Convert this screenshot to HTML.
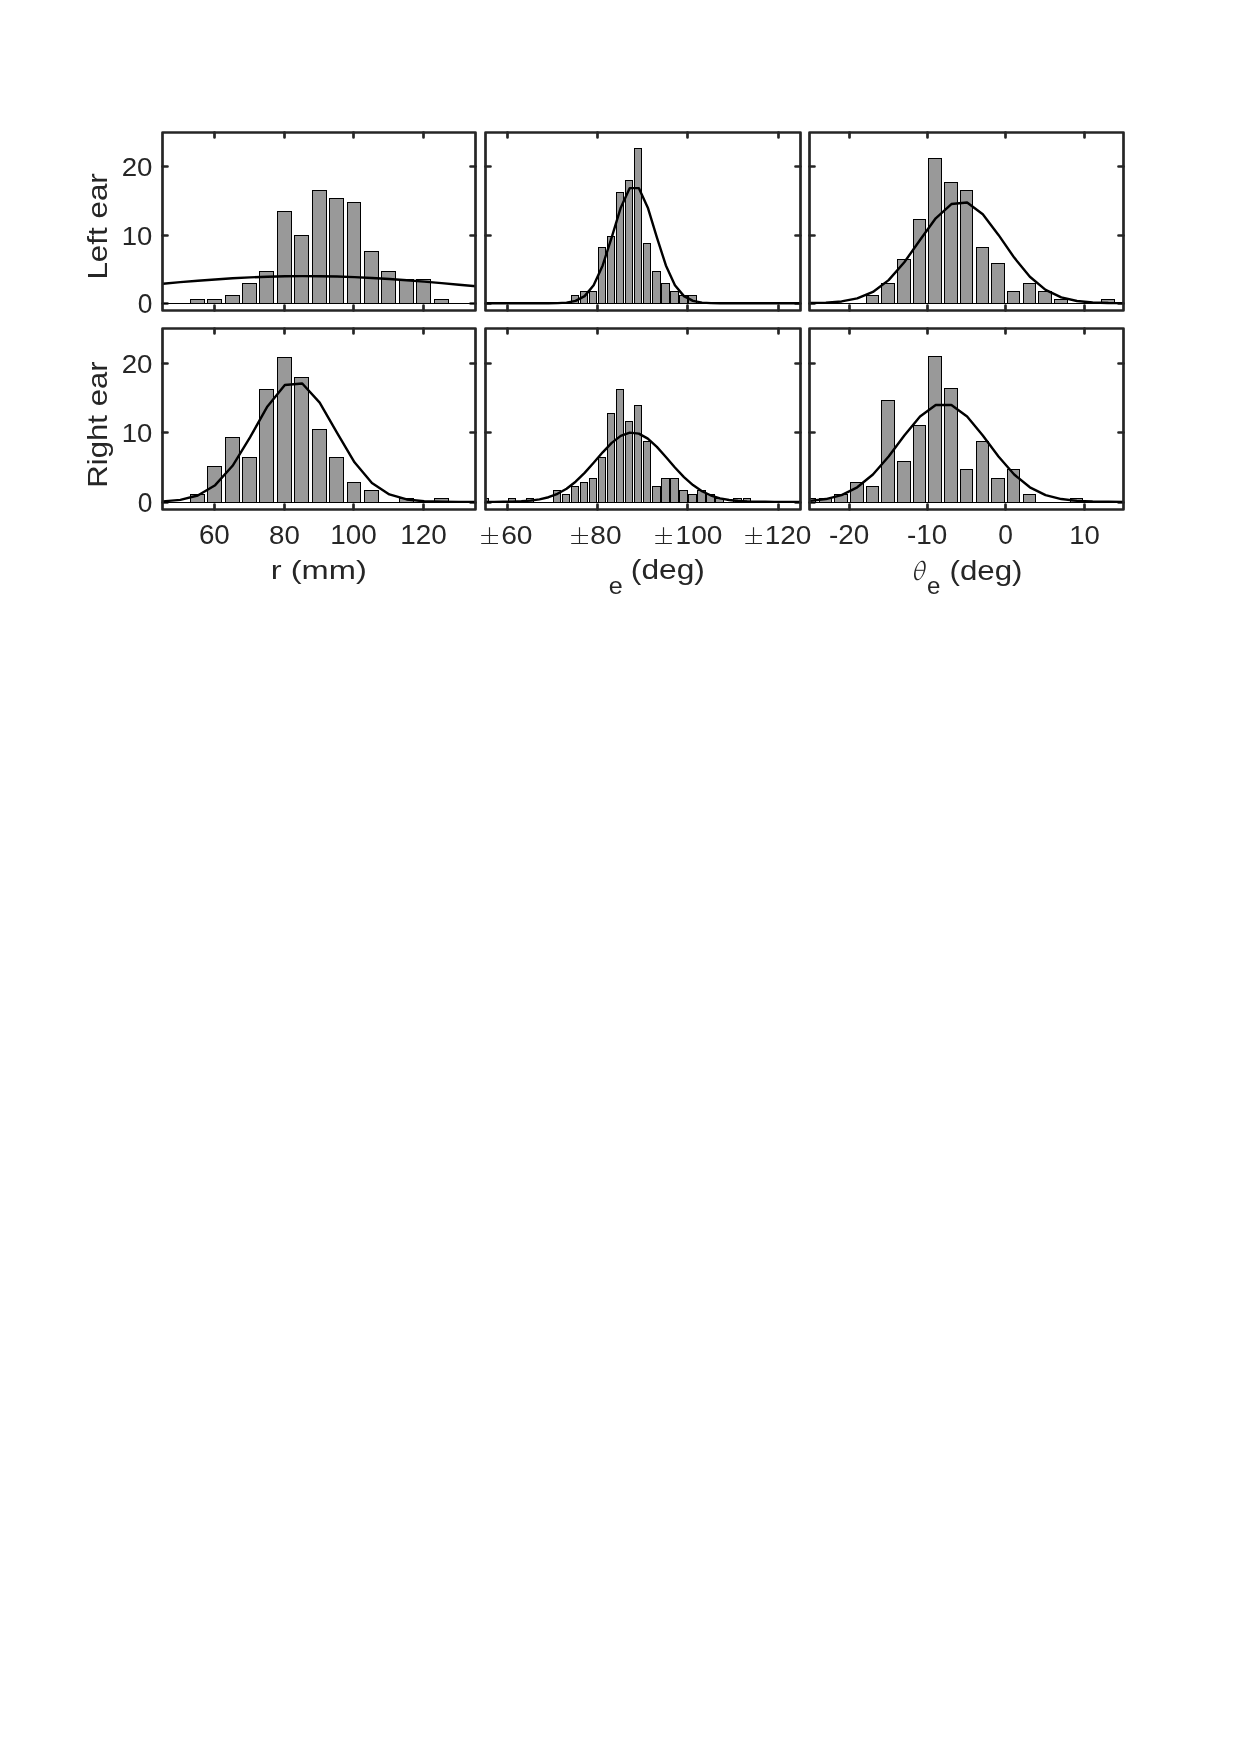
<!DOCTYPE html>
<html><head><meta charset="utf-8"><title>Histograms</title>
<style>
html,body{margin:0;padding:0;background:#fff;}
svg{display:block;will-change:transform;}
text{font-family:"Liberation Sans",sans-serif;fill:#262626;font-kerning:none;}
.b{fill:#999;stroke:#000;stroke-width:1;}
.bl{stroke:#000;stroke-width:1;}
.cv{fill:none;stroke:#000;stroke-width:2.4;stroke-linejoin:round;}
.ax{fill:none;stroke:#262626;stroke-width:2.7;stroke-linejoin:round;}
.tk{fill:none;stroke:#262626;stroke-width:2.7;stroke-linecap:round;}
.pm{fill:none;stroke:#262626;stroke-width:1.15;}
.th{fill:none;stroke:#262626;stroke-width:1.45;}
.thb{fill:none;stroke:#262626;stroke-width:1;}
</style></head><body>
<svg width="1240" height="1754" viewBox="0 0 1240 1754">
<rect width="1240" height="1754" fill="#fff"/>
<path d="M214.5 310.5V305.5M214.5 132.5V137.5M284.5 310.5V305.5M284.5 132.5V137.5M353.5 310.5V305.5M353.5 132.5V137.5M423.5 310.5V305.5M423.5 132.5V137.5M162.5 303.5H167.5M475.5 303.5H470.5M162.5 235.5H167.5M475.5 235.5H470.5M162.5 166.5H167.5M475.5 166.5H470.5" class="tk"/>
<clipPath id="clip00"><rect x="162.5" y="132.5" width="313" height="178"/></clipPath>
<g clip-path="url(#clip00)">
<rect x="190.5" y="299.5" width="14" height="4" class="b"/>
<rect x="207.5" y="299.5" width="14" height="4" class="b"/>
<rect x="225.5" y="295.5" width="14" height="8" class="b"/>
<rect x="242.5" y="283.5" width="14" height="20" class="b"/>
<rect x="259.5" y="271.5" width="14" height="32" class="b"/>
<rect x="277.5" y="211.5" width="14" height="92" class="b"/>
<rect x="294.5" y="235.5" width="14" height="68" class="b"/>
<rect x="312.5" y="190.5" width="14" height="113" class="b"/>
<rect x="329.5" y="198.5" width="14" height="105" class="b"/>
<rect x="347.5" y="202.5" width="13" height="101" class="b"/>
<rect x="364.5" y="251.5" width="14" height="52" class="b"/>
<rect x="381.5" y="271.5" width="14" height="32" class="b"/>
<rect x="399.5" y="279.5" width="14" height="24" class="b"/>
<rect x="416.5" y="279.5" width="14" height="24" class="b"/>
<rect x="434.5" y="299.5" width="14" height="4" class="b"/>
<path d="M162.5 303.5H475.5" class="bl"/>
<polyline points="162.91,283.69 180.33,282.16 197.75,280.73 215.17,279.44 232.59,278.32 250,277.4 267.42,276.72 284.84,276.28 302.26,276.1 319.68,276.19 337.09,276.54 354.51,277.15 371.93,277.99 389.35,279.04 406.77,280.28 424.18,281.67 441.6,283.17 459.02,284.75 476.44,286.37" class="cv"/>
</g>
<rect x="162.5" y="132.5" width="313" height="178" class="ax"/>
<path d="M507.5 310.5V305.5M507.5 132.5V137.5M597.5 310.5V305.5M597.5 132.5V137.5M687.5 310.5V305.5M687.5 132.5V137.5M778.5 310.5V305.5M778.5 132.5V137.5M485.5 303.5H490.5M800.5 303.5H795.5M485.5 235.5H490.5M800.5 235.5H795.5M485.5 166.5H490.5M800.5 166.5H795.5" class="tk"/>
<clipPath id="clip01"><rect x="485.5" y="132.5" width="315" height="178"/></clipPath>
<g clip-path="url(#clip01)">
<rect x="571.5" y="295.5" width="7" height="8" class="b"/>
<rect x="580.5" y="291.5" width="7" height="12" class="b"/>
<rect x="589.5" y="291.5" width="7" height="12" class="b"/>
<rect x="598.5" y="247.5" width="7" height="56" class="b"/>
<rect x="607.5" y="236.5" width="7" height="67" class="b"/>
<rect x="616.5" y="192.5" width="7" height="111" class="b"/>
<rect x="625.5" y="180.5" width="7" height="123" class="b"/>
<rect x="634.5" y="148.5" width="7" height="155" class="b"/>
<rect x="643.5" y="243.5" width="7" height="60" class="b"/>
<rect x="652.5" y="271.5" width="8" height="32" class="b"/>
<rect x="661.5" y="283.5" width="8" height="20" class="b"/>
<rect x="670.5" y="291.5" width="8" height="12" class="b"/>
<rect x="679.5" y="295.5" width="8" height="8" class="b"/>
<rect x="688.5" y="295.5" width="8" height="8" class="b"/>
<path d="M485.5 303.5H800.5" class="bl"/>
<polyline points="485.29,303.22 494.32,303.22 503.35,303.22 512.38,303.22 521.41,303.22 530.44,303.22 539.47,303.22 548.5,303.19 557.53,303.08 566.56,302.59 575.59,300.89 584.62,296.13 593.65,285.26 602.68,265.47 611.71,237.3 620.75,207.63 629.77,188.12 638.8,188.12 647.83,207.63 656.87,237.3 665.89,265.47 674.92,285.26 683.95,296.13 692.98,300.89 702.01,302.59 711.04,303.08 720.07,303.19 729.11,303.22 738.13,303.22 747.16,303.22 756.19,303.22 765.22,303.22 774.25,303.22 783.28,303.22 792.31,303.22 801.34,303.22" class="cv"/>
</g>
<rect x="485.5" y="132.5" width="315" height="178" class="ax"/>
<path d="M849.5 310.5V305.5M849.5 132.5V137.5M927.5 310.5V305.5M927.5 132.5V137.5M1005.5 310.5V305.5M1005.5 132.5V137.5M1084.5 310.5V305.5M1084.5 132.5V137.5M809.5 303.5H814.5M1123.5 303.5H1118.5M809.5 235.5H814.5M1123.5 235.5H1118.5M809.5 166.5H814.5M1123.5 166.5H1118.5" class="tk"/>
<clipPath id="clip02"><rect x="809.5" y="132.5" width="314" height="178"/></clipPath>
<g clip-path="url(#clip02)">
<rect x="866.5" y="295.5" width="12" height="8" class="b"/>
<rect x="881.5" y="283.5" width="13" height="20" class="b"/>
<rect x="897.5" y="259.5" width="13" height="44" class="b"/>
<rect x="913.5" y="219.5" width="12" height="84" class="b"/>
<rect x="928.5" y="158.5" width="13" height="145" class="b"/>
<rect x="944.5" y="182.5" width="13" height="121" class="b"/>
<rect x="960.5" y="190.5" width="12" height="113" class="b"/>
<rect x="976.5" y="247.5" width="12" height="56" class="b"/>
<rect x="991.5" y="263.5" width="13" height="40" class="b"/>
<rect x="1007.5" y="291.5" width="12" height="12" class="b"/>
<rect x="1023.5" y="283.5" width="12" height="20" class="b"/>
<rect x="1038.5" y="291.5" width="13" height="12" class="b"/>
<rect x="1054.5" y="299.5" width="13" height="4" class="b"/>
<rect x="1101.5" y="299.5" width="13" height="4" class="b"/>
<path d="M809.5 303.5H1123.5" class="bl"/>
<polyline points="810.16,303.06 825.86,302.65 841.55,301.44 857.25,298.41 872.94,291.93 888.63,280.16 904.33,262.27 920.02,239.97 935.72,218.28 951.41,204.03 967.11,202.49 982.8,214.27 998.49,234.92 1014.19,257.61 1029.88,276.74 1045.58,289.85 1061.27,297.35 1076.96,300.98 1092.66,302.48 1108.35,303.01 1124.05,303.17" class="cv"/>
</g>
<rect x="809.5" y="132.5" width="314" height="178" class="ax"/>
<path d="M214.5 509.5V504.5M214.5 328.5V333.5M284.5 509.5V504.5M284.5 328.5V333.5M353.5 509.5V504.5M353.5 328.5V333.5M423.5 509.5V504.5M423.5 328.5V333.5M162.5 502.5H167.5M475.5 502.5H470.5M162.5 432.5H167.5M475.5 432.5H470.5M162.5 363.5H167.5M475.5 363.5H470.5" class="tk"/>
<clipPath id="clip10"><rect x="162.5" y="328.5" width="313" height="181"/></clipPath>
<g clip-path="url(#clip10)">
<rect x="190.5" y="494.5" width="14" height="8" class="b"/>
<rect x="207.5" y="466.5" width="14" height="36" class="b"/>
<rect x="225.5" y="437.5" width="14" height="65" class="b"/>
<rect x="242.5" y="457.5" width="14" height="45" class="b"/>
<rect x="259.5" y="389.5" width="14" height="113" class="b"/>
<rect x="277.5" y="357.5" width="14" height="145" class="b"/>
<rect x="294.5" y="377.5" width="14" height="125" class="b"/>
<rect x="312.5" y="429.5" width="14" height="73" class="b"/>
<rect x="329.5" y="457.5" width="14" height="45" class="b"/>
<rect x="347.5" y="482.5" width="13" height="20" class="b"/>
<rect x="364.5" y="490.5" width="14" height="12" class="b"/>
<rect x="399.5" y="498.5" width="14" height="4" class="b"/>
<rect x="434.5" y="498.5" width="14" height="4" class="b"/>
<path d="M162.5 502.5H475.5" class="bl"/>
<polyline points="162.91,501.35 180.33,499.85 197.75,495.47 215.17,485.16 232.59,465.77 250,437.36 267.42,406.46 284.84,385.07 302.26,383.51 319.68,402.6 337.09,432.95 354.51,462.27 371.93,483.04 389.35,494.47 406.77,499.47 424.18,501.24 441.6,501.74 459.02,501.86 476.44,501.89" class="cv"/>
</g>
<rect x="162.5" y="328.5" width="313" height="181" class="ax"/>
<path d="M507.5 509.5V504.5M507.5 328.5V333.5M597.5 509.5V504.5M597.5 328.5V333.5M687.5 509.5V504.5M687.5 328.5V333.5M778.5 509.5V504.5M778.5 328.5V333.5M485.5 502.5H490.5M800.5 502.5H795.5M485.5 432.5H490.5M800.5 432.5H795.5M485.5 363.5H490.5M800.5 363.5H795.5" class="tk"/>
<clipPath id="clip11"><rect x="485.5" y="328.5" width="315" height="181"/></clipPath>
<g clip-path="url(#clip11)">
<rect x="481.5" y="498.5" width="7" height="4" class="b"/>
<rect x="508.5" y="498.5" width="7" height="4" class="b"/>
<rect x="526.5" y="498.5" width="7" height="4" class="b"/>
<rect x="553.5" y="490.5" width="7" height="12" class="b"/>
<rect x="562.5" y="494.5" width="7" height="8" class="b"/>
<rect x="571.5" y="486.5" width="7" height="16" class="b"/>
<rect x="580.5" y="482.5" width="7" height="20" class="b"/>
<rect x="589.5" y="478.5" width="7" height="24" class="b"/>
<rect x="598.5" y="457.5" width="7" height="45" class="b"/>
<rect x="607.5" y="413.5" width="7" height="89" class="b"/>
<rect x="616.5" y="389.5" width="7" height="113" class="b"/>
<rect x="625.5" y="421.5" width="7" height="81" class="b"/>
<rect x="634.5" y="405.5" width="7" height="97" class="b"/>
<rect x="643.5" y="441.5" width="7" height="61" class="b"/>
<rect x="652.5" y="486.5" width="8" height="16" class="b"/>
<rect x="661.5" y="478.5" width="8" height="24" class="b"/>
<rect x="670.5" y="478.5" width="8" height="24" class="b"/>
<rect x="679.5" y="490.5" width="8" height="12" class="b"/>
<rect x="688.5" y="494.5" width="8" height="8" class="b"/>
<rect x="697.5" y="490.5" width="8" height="12" class="b"/>
<rect x="706.5" y="494.5" width="8" height="8" class="b"/>
<rect x="715.5" y="498.5" width="8" height="4" class="b"/>
<rect x="733.5" y="498.5" width="8" height="4" class="b"/>
<rect x="743.5" y="498.5" width="7" height="4" class="b"/>
<path d="M485.5 502.5H800.5" class="bl"/>
<polyline points="485.29,501.87 494.32,501.84 503.35,501.77 512.38,501.62 521.41,501.28 530.44,500.61 539.47,499.37 548.5,497.23 557.53,493.81 566.56,488.72 575.59,481.73 584.62,472.91 593.65,462.78 602.68,452.31 611.71,442.87 620.75,435.91 629.77,432.61 638.8,433.59 647.83,438.65 656.87,446.89 665.89,456.98 674.92,467.45 683.95,477.08 692.98,485.11 702.01,491.23 711.04,495.53 720.07,498.33 729.11,500.02 738.13,500.96 747.16,501.46 756.19,501.7 765.22,501.81 774.25,501.86 783.28,501.88 792.31,501.89 801.34,501.89" class="cv"/>
</g>
<rect x="485.5" y="328.5" width="315" height="181" class="ax"/>
<path d="M849.5 509.5V504.5M849.5 328.5V333.5M927.5 509.5V504.5M927.5 328.5V333.5M1005.5 509.5V504.5M1005.5 328.5V333.5M1084.5 509.5V504.5M1084.5 328.5V333.5M809.5 502.5H814.5M1123.5 502.5H1118.5M809.5 432.5H814.5M1123.5 432.5H1118.5M809.5 363.5H814.5M1123.5 363.5H1118.5" class="tk"/>
<clipPath id="clip12"><rect x="809.5" y="328.5" width="314" height="181"/></clipPath>
<g clip-path="url(#clip12)">
<rect x="803.5" y="498.5" width="12" height="4" class="b"/>
<rect x="819.5" y="498.5" width="12" height="4" class="b"/>
<rect x="834.5" y="494.5" width="13" height="8" class="b"/>
<rect x="850.5" y="482.5" width="13" height="20" class="b"/>
<rect x="866.5" y="486.5" width="12" height="16" class="b"/>
<rect x="881.5" y="400.5" width="13" height="102" class="b"/>
<rect x="897.5" y="461.5" width="13" height="41" class="b"/>
<rect x="913.5" y="425.5" width="12" height="77" class="b"/>
<rect x="928.5" y="356.5" width="13" height="146" class="b"/>
<rect x="944.5" y="388.5" width="13" height="114" class="b"/>
<rect x="960.5" y="469.5" width="12" height="33" class="b"/>
<rect x="976.5" y="441.5" width="12" height="61" class="b"/>
<rect x="991.5" y="478.5" width="13" height="24" class="b"/>
<rect x="1007.5" y="469.5" width="12" height="33" class="b"/>
<rect x="1023.5" y="494.5" width="12" height="8" class="b"/>
<rect x="1070.5" y="498.5" width="12" height="4" class="b"/>
<path d="M809.5 502.5H1123.5" class="bl"/>
<polyline points="810.16,500.86 825.86,499.06 841.55,495.05 857.25,487.3 872.94,474.46 888.63,456.45 904.33,435.54 920.02,416.49 935.72,405.01 951.41,405.01 967.11,416.49 982.8,435.54 998.49,456.45 1014.19,474.46 1029.88,487.3 1045.58,495.05 1061.27,499.06 1076.96,500.86 1092.66,501.56 1108.35,501.8 1124.05,501.87" class="cv"/>
</g>
<rect x="809.5" y="328.5" width="314" height="181" class="ax"/>
<text transform="translate(137.71 312.89) scale(0.9868 1)" font-size="26.707">0</text>
<text transform="translate(121.84 244.89) scale(1.0291 1)" font-size="26.707">10</text>
<text transform="translate(121.63 175.89) scale(1.0366 1)" font-size="26.707">20</text>
<text transform="translate(137.71 511.89) scale(0.9868 1)" font-size="26.707">0</text>
<text transform="translate(121.84 441.89) scale(1.0291 1)" font-size="26.707">10</text>
<text transform="translate(121.63 372.89) scale(1.0366 1)" font-size="26.707">20</text>
<text transform="translate(198.93 544.09) scale(1.0402 1)" font-size="26.707">60</text>
<text transform="translate(269.09 544.09) scale(1.0346 1)" font-size="26.707">80</text>
<text transform="translate(330.26 544.09) scale(1.0441 1)" font-size="26.707">100</text>
<text transform="translate(400.26 544.09) scale(1.0441 1)" font-size="26.707">120</text>
<text transform="translate(501.17 544.09) scale(1.0552 1)" font-size="26.695">60</text>
<path d="M481.2 535.5H498M481.2 543.5H498M489.5 527.3V543.5" class="pm"/>
<text transform="translate(590.28 544.09) scale(1.0513 1)" font-size="26.695">80</text>
<path d="M571.2 535.5H588M571.2 543.5H588M579.5 527.3V543.5" class="pm"/>
<text transform="translate(675.56 544.09) scale(1.0515 1)" font-size="26.695">100</text>
<path d="M655.3 535.5H671.9M655.3 543.5H671.9M663.5 527.3V543.5" class="pm"/>
<text transform="translate(764.67 544.09) scale(1.0491 1)" font-size="26.695">120</text>
<path d="M745.3 535.5H761.9M745.3 543.5H761.9M753.5 527.3V543.5" class="pm"/>
<text transform="translate(829.07 544.09) scale(1.0435 1)" font-size="26.707">-20</text>
<text transform="translate(907.07 544.09) scale(1.0435 1)" font-size="26.707">-10</text>
<text transform="translate(998.17 544.09) scale(0.9868 1)" font-size="26.707">0</text>
<text transform="translate(1069.25 544.09) scale(1.0291 1)" font-size="26.707">10</text>
<text transform="translate(106.54 279.57) rotate(-90) scale(1.1621 1)" font-size="26.998">Left ear</text>
<text transform="translate(107.01 487.65) rotate(-90) scale(1.1157 1)" font-size="27.893">Right ear</text>
<text transform="translate(270.83 579.4) scale(1.2505 1)" font-size="26.083">r (mm)</text>
<text transform="translate(608.73 594.26) scale(1.0205 1)" font-size="24.642">e</text>
<text transform="translate(630.83 579.22) scale(1.1197 1)" font-size="28.322">(deg)</text>
<path d="M925.10 570.50L924.72 571.77L924.25 573.02L923.70 574.22L923.09 575.36L922.43 576.42L921.72 577.37L920.98 578.21L920.22 578.92L919.45 579.48L918.69 579.89L917.95 580.14L917.25 580.22L916.58 580.14L915.98 579.89L915.43 579.48L914.97 578.92L914.59 578.21L914.30 577.37L914.10 576.42L914.00 575.36L914.00 574.22L914.10 573.02L914.30 571.77L914.60 570.50L914.98 569.23L915.45 567.98L916.00 566.78L916.61 565.64L917.27 564.58L917.98 563.63L918.72 562.79L919.48 562.08L920.25 561.52L921.01 561.11L921.75 560.86L922.45 560.78L923.12 560.86L923.72 561.11L924.27 561.52L924.73 562.08L925.11 562.79L925.40 563.63L925.60 564.58L925.70 565.64L925.70 566.78L925.60 567.98L925.40 569.23ZM923.88 569.38L924.00 568.29L924.04 567.23L924.02 566.23L923.92 565.30L923.75 564.45L923.51 563.72L923.21 563.10L922.86 562.60L922.45 562.24L922.00 562.02L921.51 561.95L921.00 562.02L920.46 562.24L919.91 562.60L919.36 563.10L918.82 563.72L918.30 564.45L917.81 565.30L917.35 566.23L916.93 567.23L916.56 568.29L916.25 569.38L916.00 570.50L915.82 571.62L915.70 572.71L915.66 573.77L915.68 574.77L915.78 575.70L915.95 576.55L916.19 577.28L916.49 577.90L916.84 578.40L917.25 578.76L917.70 578.98L918.19 579.05L918.70 578.98L919.24 578.76L919.79 578.40L920.34 577.90L920.88 577.28L921.40 576.55L921.89 575.70L922.35 574.77L922.77 573.77L923.14 572.71L923.45 571.62L923.70 570.50Z" fill="#262626"/><path d="M915.4 570.3H923.9" class="thb"/>
<text transform="translate(926.98 594.17) scale(1.0071 1)" font-size="23.912">e</text>
<text transform="translate(949.46 579.51) scale(1.1223 1)" font-size="27.893">(deg)</text>
</svg>
</body></html>
